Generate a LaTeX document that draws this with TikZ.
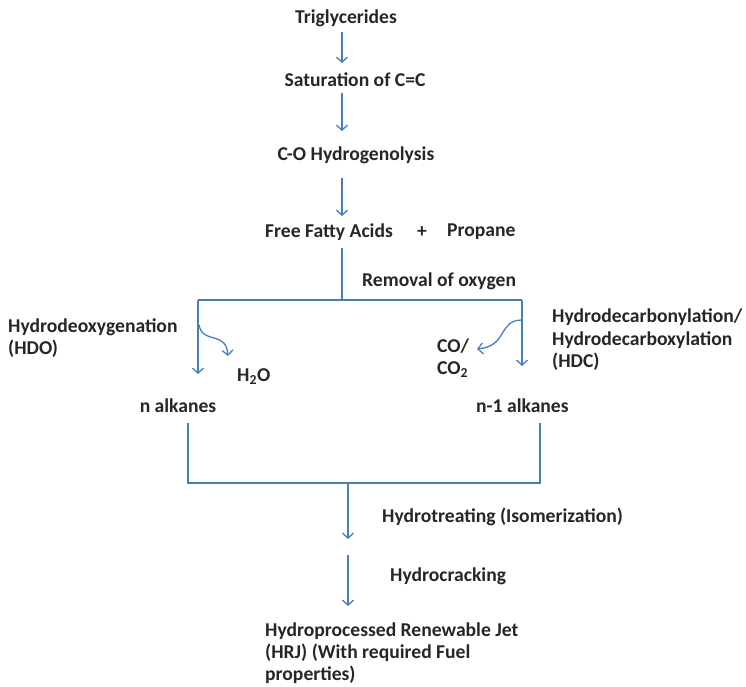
\documentclass[tikz,border=0pt]{standalone}
\usepackage{fontspec}
\setmainfont{Carlito}
\usetikzlibrary{arrows.meta}
\definecolor{txt}{HTML}{262626}
\definecolor{arr}{HTML}{4A7EBB}
\tikzset{
  lbl/.style={font=\bfseries\fontsize{19.6}{22.5}\selectfont, text=txt, inner sep=0pt},
  conn/.style={draw=arr, line width=1.3pt},
  flow/.style={conn, -{Straight Barb[length=5pt,width=11pt,line width=1.3pt]}},
}
\begin{document}
\begin{tikzpicture}[x=1pt,y=-1pt]
\useasboundingbox (0,0) rectangle (746,687);
% texts
\node[lbl] (tri) at (346,18) {Triglycerides};
\node[lbl] (sat) at (355,80) {Saturation of C=C};
\node[lbl] (hyd) at (356,155) {C-O Hydrogenolysis};
\node[lbl, anchor=west] (ffa) at (265,232) {Free Fatty Acids};
\node[lbl] (plus) at (422,232) {+};
\node[lbl, anchor=west] (prop) at (447,232) {Propane};
\node[lbl, anchor=west] (rem) at (362,281) {Removal of oxygen};
\node[lbl, anchor=west, align=left] (hdo) at (8,338) {Hydrodeoxygenation\\(HDO)};
\node[lbl, anchor=west, align=left] (hdc) at (552,340) {Hydrodecarbonylation/\\Hydrodecarboxylation\\(HDC)};
\node[lbl, anchor=west] (h2o) at (237,377) {H$_\mathbf{2}$O};
\node[lbl, anchor=west, align=left] (co) at (437,358) {CO/\\CO$_\mathbf{2}$};
\node[lbl] (nalk) at (178,406) {n alkanes};
\node[lbl, anchor=west] (n1alk) at (476,406) {n-1 alkanes};
\node[lbl, anchor=west] (hyt) at (382,517) {Hydrotreating (Isomerization)};
\node[lbl, anchor=west] (hyc) at (390,576) {Hydrocracking};
\node[lbl, anchor=west, align=left, font=\bfseries\fontsize{19.6}{22}\selectfont] (hrj) at (265,653) {Hydroprocessed Renewable Jet\\(HRJ) (With required Fuel\\properties)};
% coordinates
\coordinate (a1s) at (342,32); \coordinate (a1e) at (342,63);
\coordinate (a2s) at (342,93); \coordinate (a2e) at (342,131);
\coordinate (a3s) at (342,178); \coordinate (a3e) at (342,216);
\coordinate (v4s) at (342,248); \coordinate (v4e) at (342,300);
\coordinate (barL) at (198,300); \coordinate (barR) at (522,300);
\coordinate (leftTip) at (198,374);
\coordinate (rightTip) at (522,366);
\coordinate (lcs) at (199,325); \coordinate (lce) at (228,356);
\coordinate (rcs) at (522,320); \coordinate (rce) at (477,349);
\coordinate (cL) at (188,423); \coordinate (cLb) at (188,483);
\coordinate (cR) at (540,423); \coordinate (cRb) at (540,483);
\coordinate (cM) at (348,483); \coordinate (cMe) at (348,539);
\coordinate (d2s) at (348,555); \coordinate (d2e) at (348,606);
% connectors
\draw[flow] (a1s) -- (a1e);
\draw[flow] (a2s) -- (a2e);
\draw[flow] (a3s) -- (a3e);
\draw[conn] (v4s) -- (v4e);
\draw[conn] (barL) -- (barR);
\draw[flow] (barL) -- (leftTip);
\draw[flow] (barR) -- (rightTip);
\draw[flow] (lcs) .. controls (203,345) and (226,330) .. (lce);
\draw[flow] (rcs) .. controls (498,320) and (508,346) .. (rce);
\draw[conn] (cL) -- (cLb) -- (cRb) -- (cR);
\draw[flow] (cM) -- (cMe);
\draw[flow] (d2s) -- (d2e);
\end{tikzpicture}
\end{document}
